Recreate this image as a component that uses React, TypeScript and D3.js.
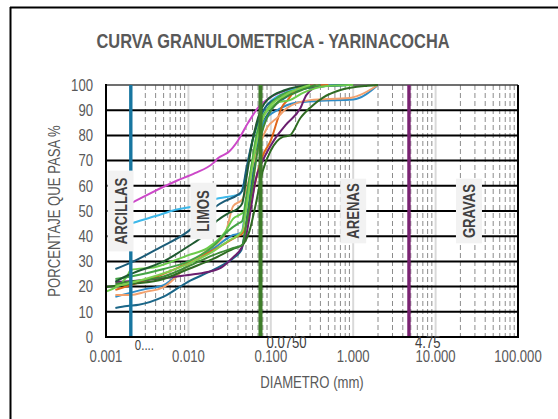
import React from "react";
import * as d3 from "d3";

// Grain-size distribution curves (diameter in mm, % passing)
type Pt = [number, number];

const seriesColors: string[] = [
  "#CC48C8", "#3CB8EA", "#1B5C78", "#1A6688", "#2F8DC8", "#E0661A", "#F2A06C",
  "#6B1E6E", "#2F6B22", "#6BCB4B", "#45A545", "#1F5A30", "#3D8A35", "#7FCF4F",
];

const muestra1: Pt[] = [[0.0011, 46], [0.0018, 52], [0.003, 56], [0.0072, 62], [0.012, 65], [0.02, 69], [0.023, 71], [0.031, 73.5], [0.04, 78], [0.053, 85], [0.07, 91], [0.098, 95], [0.16, 98], [0.28, 99.6], [0.6, 100]];
const muestra2: Pt[] = [[0.0013, 43], [0.002, 45], [0.004, 48], [0.007, 50.5], [0.012, 52], [0.02, 54.5], [0.035, 56], [0.042, 56.5], [0.048, 62], [0.055, 72], [0.062, 80], [0.072, 86], [0.09, 92], [0.15, 97], [0.3, 99.5], [0.85, 100]];
const muestra3: Pt[] = [[0.0013, 27], [0.002, 29.5], [0.0045, 35.5], [0.01, 42], [0.017, 49], [0.022, 52], [0.028, 54], [0.04, 56.5], [0.045, 58], [0.05, 66], [0.06, 78], [0.07, 85], [0.09, 92], [0.15, 96], [0.3, 99], [0.85, 100]];
const muestra4: Pt[] = [[0.0013, 11.5], [0.0018, 12.3], [0.0025, 12.8], [0.005, 16], [0.01, 22], [0.02, 26.6], [0.035, 31.3], [0.044, 34.5], [0.05, 45], [0.058, 60], [0.065, 72], [0.075, 82], [0.1, 90], [0.15, 95], [0.3, 99], [0.85, 100]];
const muestra5: Pt[] = [[0.0013, 16], [0.003, 19], [0.005, 20.6], [0.01, 28.6], [0.02, 35], [0.035, 40.5], [0.044, 41.3], [0.05, 52], [0.058, 66], [0.068, 78], [0.085, 86], [0.12, 90], [0.2, 93], [0.4, 93.7], [1, 94.2], [2, 100]];
const muestra6: Pt[] = [[0.0013, 18.7], [0.002, 20.6], [0.004, 23.8], [0.01, 29.4], [0.02, 34.5], [0.03, 37.7], [0.038, 39.7], [0.045, 41], [0.05, 44], [0.06, 56], [0.07, 66], [0.08, 72], [0.1, 78], [0.12, 86], [0.135, 91], [0.16, 94], [0.2, 98], [0.26, 99.6], [0.5, 100]];
const muestra7: Pt[] = [[0.0013, 16.7], [0.002, 16.7], [0.003, 17.9], [0.005, 19.8], [0.01, 28.6], [0.017, 34.5], [0.028, 41], [0.035, 52], [0.045, 54.5], [0.05, 58], [0.06, 68], [0.075, 77], [0.09, 83], [0.12, 87], [0.16, 91], [0.3, 94], [0.9, 94.8], [1.2, 96], [2, 100]];
const muestra8: Pt[] = [[0.0013, 21.8], [0.003, 22.6], [0.01, 24.6], [0.017, 25.8], [0.025, 27.5], [0.035, 31.7], [0.044, 35.3], [0.05, 40], [0.058, 52], [0.065, 62], [0.08, 70], [0.1, 76], [0.12, 80], [0.15, 84], [0.23, 91], [0.27, 96], [0.4, 100]];
const muestra9: Pt[] = [[0.001, 19.8], [0.002, 21], [0.005, 23], [0.01, 27], [0.02, 31], [0.035, 35], [0.045, 36.5], [0.055, 42], [0.065, 52], [0.08, 66], [0.1, 74], [0.14, 79.4], [0.17, 80], [0.23, 87], [0.3, 91], [0.43, 95], [0.7, 98], [1.5, 99.7], [2, 100]];
const muestra10: Pt[] = [[0.001, 18], [0.0018, 24], [0.002, 26.6], [0.004, 27.8], [0.01, 32.5], [0.017, 35.3], [0.028, 41.7], [0.035, 47], [0.042, 48.5], [0.048, 50], [0.055, 62], [0.065, 78], [0.075, 86], [0.1, 91], [0.12, 93], [0.17, 94], [0.25, 97], [0.45, 99.5], [1, 100]];
const muestra11: Pt[] = [[0.0013, 23], [0.002, 24], [0.005, 27], [0.01, 30], [0.02, 36], [0.03, 42], [0.04, 45], [0.045, 46], [0.05, 55], [0.06, 70], [0.07, 82], [0.085, 89], [0.12, 95], [0.2, 98], [0.4, 100]];
const muestra12: Pt[] = [[0.0013, 22], [0.002, 25], [0.005, 30], [0.01, 36], [0.015, 40], [0.022, 46], [0.03, 49], [0.04, 51], [0.045, 53], [0.05, 62], [0.06, 78], [0.07, 87], [0.09, 94], [0.15, 98], [0.3, 100]];
const muestra13: Pt[] = [[0.0013, 21], [0.002, 22], [0.005, 24], [0.01, 28], [0.02, 32.5], [0.035, 35.3], [0.045, 36.5], [0.05, 44], [0.06, 60], [0.07, 75], [0.085, 85], [0.12, 93], [0.2, 97], [0.35, 100]];
const muestra14: Pt[] = [[0.0013, 20], [0.003, 23], [0.01, 29], [0.02, 34], [0.03, 38], [0.045, 42], [0.05, 50], [0.06, 68], [0.07, 80], [0.09, 90], [0.15, 96], [0.3, 100]];

const muestras: Pt[][] = [
  muestra1, muestra2, muestra3, muestra4, muestra5, muestra6, muestra7,
  muestra8, muestra9, muestra10, muestra11, muestra12, muestra13, muestra14,
];

// Reference sizes separating soil fractions
const limiteValores: number[] = [0.002, 0.075, 4.75];
const limiteEtiquetas: string[] = ["0....", "0.0750", "4.75"];
const limiteColores: string[] = ["#1876A0", "#3E7D2A", "#7A2272"];

// Soil fraction names and where they sit along the axis
const fracciones: string[] = ["ARCILLAS", "LIMOS", "ARENAS", "GRAVAS"];
const fraccionPos: number[] = [0.0015, 0.0152, 1.0, 25.4];

const xTicks: number[] = [0.001, 0.01, 0.1, 1, 10, 100];
const xTickLabels: string[] = ["0.001", "0.010", "0.100", "1.000", "10.000", "100.000"];
const yTicks: number[] = [0, 10, 20, 30, 40, 50, 60, 70, 80, 90, 100];

const FONT = '"Liberation Sans", Arial, sans-serif';
const NARROW = 0.82;

// Condensed text: regular sans squeezed horizontally
function T(props: {
  x: number; y: number; rotate?: number; size: number; anchor?: string;
  bold?: boolean; fill: string; children: React.ReactNode;
}) {
  const { x, y, rotate, size, anchor, bold, fill, children } = props;
  const tf = `translate(${x},${y})${rotate ? ` rotate(${rotate})` : ""} scale(${NARROW},1)`;
  return (
    <text transform={tf} textAnchor={anchor || "start"} fontSize={size}
      fontWeight={bold ? "bold" : "normal"} fill={fill}>
      {children}
    </text>
  );
}

export default function App() {
  const x = d3.scaleLog().domain([0.001, 100]).range([106, 518]);
  const y = d3.scaleLinear().domain([0, 100]).range([337, 85]);

  const line = d3
    .line<Pt>()
    .x((d) => x(d[0]))
    .y((d) => y(d[1]))
    .curve(d3.curveMonotoneX);

  // minor log gridlines (2..9 per decade)
  const minor: number[] = [];
  for (let e = -3; e < 2; e++) {
    for (let m = 2; m <= 9; m++) minor.push(m * Math.pow(10, e));
  }
  const majors = xTicks.slice(1, -1);

  return (
    <svg
      width={558}
      height={419}
      style={{ position: "absolute", left: 0, top: 0, background: "#fff" }}
      fontFamily={FONT}
    >
      <rect x={0} y={0} width={558} height={419} fill="#fff" />
      {/* outer frame */}
      <line x1={10} y1={7.5} x2={558} y2={7.5} stroke="#000" strokeWidth={2} />
      <line x1={10.5} y1={7} x2={10.5} y2={419} stroke="#000" strokeWidth={2} />

      <T x={273} y={48} anchor="middle" size={20} bold fill="#595959">
        CURVA GRANULOMETRICA - YARINACOCHA
      </T>

      {/* vertical grid */}
      {minor.map((v, i) => (
        <line key={"mn" + i} x1={x(v)} x2={x(v)} y1={y(100)} y2={y(0)} stroke="#8c8c8c" strokeWidth={1} strokeDasharray="5,3" />
      ))}
      {majors.map((v, i) => (
        <line key={"mj" + i} x1={x(v)} x2={x(v)} y1={y(100)} y2={y(0)} stroke="#d9d9d9" strokeWidth={2} />
      ))}

      {/* horizontal grid */}
      {yTicks.slice(1, -1).map((v) => (
        <line key={"h" + v} x1={x(0.001)} x2={x(100)} y1={y(v)} y2={y(v)} stroke="#000" strokeWidth={2} />
      ))}
      <line x1={x(0.001)} x2={x(100)} y1={y(100)} y2={y(100)} stroke="#404040" strokeWidth={1.5} />
      <line x1={x(100)} x2={x(100)} y1={y(100)} y2={y(0)} stroke="#000" strokeWidth={2} />

      {/* curves */}
      {muestras.map((s, i) => (
        <path key={"s" + i} d={line(s) || ""} fill="none" stroke={seriesColors[i]} strokeWidth={2} />
      ))}

      {/* fraction limits */}
      {limiteValores.map((v, i) => (
        <line key={"l" + i} x1={x(v)} x2={x(v)} y1={y(100)} y2={y(0)} stroke={limiteColores[i]} strokeWidth={i === 1 ? 4 : 3.4} />
      ))}

      {/* axes */}
      <line x1={x(0.001)} x2={x(0.001)} y1={y(100) - 1} y2={y(0) + 1} stroke="#000" strokeWidth={2} />
      <line x1={x(0.001)} x2={x(100) + 1} y1={y(0)} y2={y(0)} stroke="#000" strokeWidth={2} />

      {/* fraction labels */}
      {fracciones.map((f, i) => {
        const cx = x(fraccionPos[i]);
        const cy = y(50);
        const w = f.length * 8.1 + 16;
        return (
          <g key={"f" + i}>
            <rect x={cx - 13} y={cy - w / 2} width={26} height={w} fill="#f2f2f2" />
            <text
              transform={`translate(${cx + 6},${cy}) rotate(-90) scale(${NARROW},1)`}
              textAnchor="middle"
              fontSize={16}
              fontWeight="bold"
              fill="#404040"
            >
              {f}
            </text>
          </g>
        );
      })}

      {/* limit value labels */}
      {limiteValores.map((v, i) => (
        <T key={"lt" + i} x={x(v) + (i === 0 ? 4 : 6)} y={i === 0 ? 350 : 348} size={i === 0 ? 14 : 16} fill="#404040">
          {limiteEtiquetas[i]}
        </T>
      ))}

      {/* y tick labels */}
      {yTicks.map((v) => (
        <T key={"yt" + v} x={93} y={y(v) + 5.7} anchor="end" size={16} fill="#595959">
          {v}
        </T>
      ))}
      {/* x tick labels */}
      {xTicks.map((v, i) => (
        <T key={"xt" + i} x={x(v)} y={362} anchor="middle" size={16} fill="#595959">
          {xTickLabels[i]}
        </T>
      ))}

      <T x={312} y={388} anchor="middle" size={16} fill="#595959">
        DIAMETRO (mm)
      </T>
      <T x={60} y={211} rotate={-90} anchor="middle" size={16} fill="#595959">
        PORCENTAJE QUE PASA %
      </T>
    </svg>
  );
}
